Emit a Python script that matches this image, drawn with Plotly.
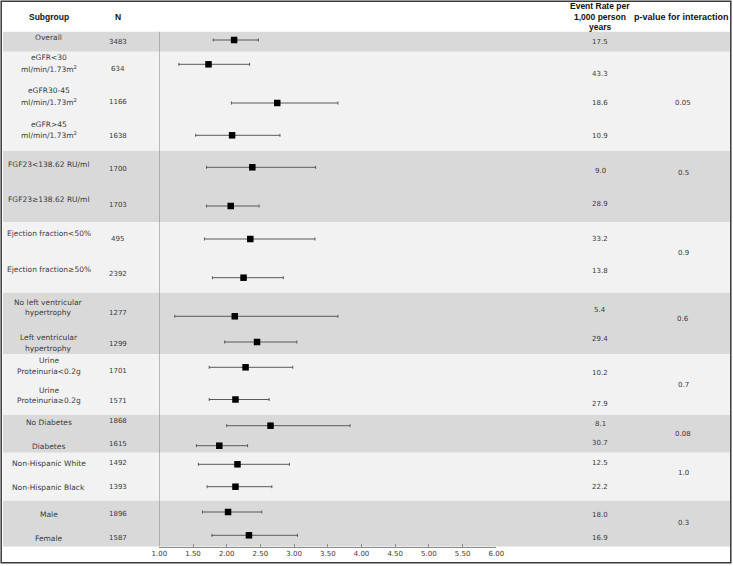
import plotly.graph_objects as go

# ---------------- data ----------------
subgroup_lines = [
    ["Overall"],
    ["eGFR<30", "ml/min/1.73m<sup>2</sup>"],
    ["eGFR30-45", "ml/min/1.73m<sup>2</sup>"],
    ["eGFR>45", "ml/min/1.73m<sup>2</sup>"],
    ["FGF23<138.62 RU/ml"],
    ["FGF23≥138.62 RU/ml"],
    ["Ejection fraction<50%"],
    ["Ejection fraction≥50%"],
    ["No left ventricular", "hypertrophy"],
    ["Left ventricular", "hypertrophy"],
    ["Urine", "Proteinuria<0.2g"],
    ["Urine", "Proteinuria≥0.2g"],
    ["No Diabetes"],
    ["Diabetes"],
    ["Non-Hispanic White"],
    ["Non-Hispanic Black"],
    ["Male"],
    ["Female"],
]
n_values = [3483, 634, 1166, 1638, 1700, 1703, 495, 2392, 1277, 1299,
            1701, 1571, 1868, 1615, 1492, 1393, 1896, 1587]
hr = [2.11, 1.73, 2.75, 2.08, 2.38, 2.06, 2.35, 2.25, 2.12, 2.45,
      2.28, 2.13, 2.65, 1.89, 2.16, 2.13, 2.02, 2.33]
ci_low = [1.80, 1.29, 2.07, 1.54, 1.70, 1.70, 1.67, 1.79, 1.23, 1.97,
          1.74, 1.74, 2.00, 1.55, 1.58, 1.71, 1.64, 1.78]
ci_high = [2.47, 2.34, 3.65, 2.79, 3.32, 2.48, 3.31, 2.84, 3.65, 3.04,
           2.98, 2.63, 3.83, 2.31, 2.93, 2.67, 2.52, 3.05]
event_rate = ["17.5", "43.3", "18.6", "10.9", "9.0", "28.9", "33.2", "13.8",
              "5.4", "29.4", "10.2", "27.9", "8.1", "30.7", "12.5", "22.2",
              "18.0", "16.9"]
p_values = ["0.05", "0.5", "0.9", "0.6", "0.7", "0.08", "1.0", "0.3"]
x_ticks = [1.0, 1.5, 2.0, 2.5, 3.0, 3.5, 4.0, 4.5, 5.0, 5.5, 6.0]
x_tick_labels = ["%.2f" % t for t in x_ticks]

# ---------------- layout (pixel rows from top) ----------------
W, H = 733, 566
AXIS_Y = 546.7
marker_y = [40, 64.3, 103, 135.3, 167.3, 206, 239, 277.7, 316.3, 342,
            367.3, 399.5, 425.7, 445.7, 464.3, 486.7, 512, 535.3]
label_y = [[37.7], [57.3, 68.7], [90.7, 102], [124, 135.3], [164.3], [199.3],
           [233.7], [269], [302.7, 312.7], [337.7, 348], [360.3, 371],
           [390.3, 400.7], [422.7], [446.3], [463.3], [487.3], [514.3], [538]]
n_y = [42.3, 69.3, 102, 136, 169.3, 204.7, 238.7, 274, 312.7, 343.7,
       371, 400.7, 421.3, 444.3, 463.3, 487.3, 514.3, 538]
rate_y = [42.3, 74, 103.3, 135.7, 171, 204.3, 238.7, 271, 310, 339.3,
          373, 404.3, 424.3, 443, 463.3, 487.3, 515, 538]
p_y = [103.3, 172.7, 253.3, 319, 385, 433.7, 473.3, 522.7]
DARK, LIGHT = "#d9d9d9", "#f2f2f2"
bands = [(31.7, 51.7, DARK), (51.7, 151, LIGHT), (151, 222.3, DARK),
         (222.3, 292.7, LIGHT), (292.7, 354.3, DARK), (354.3, 415, LIGHT),
         (415, 452.7, DARK), (452.7, 500.7, LIGHT), (500.7, AXIS_Y, DARK)]

X_SUB, X_N, X_RATE, X_P = 48.5, 117.5, 600, 683
X1_PX, X6_PX = 159.3, 496.3

body_font = dict(family="DejaVu Sans", size=7.5, color="#3a3a3a")
num_font = dict(family="DejaVu Sans", size=7, color="#3a3a3a")
head_font = dict(family="Liberation Sans", size=8.5, color="#111111")

fig = go.Figure()
fig.add_trace(go.Scatter(
    x=hr, y=marker_y, mode="markers",
    marker=dict(symbol="square", size=6.5, color="black"),
    error_x=dict(type="data", symmetric=False,
                 array=[h - e for h, e in zip(ci_high, hr)],
                 arrayminus=[e - l for e, l in zip(hr, ci_low)],
                 color="#595959", thickness=1, width=1.5),
    hoverinfo="skip", cliponaxis=False,
))

shapes = []
for y0, y1, c in bands:
    shapes.append(dict(type="rect", xref="paper", yref="y", x0=3 / W, x1=730 / W,
                       y0=y0, y1=y1, fillcolor=c, line=dict(width=0), layer="below"))
shapes.append(dict(type="line", xref="x", yref="y", x0=1, x1=1, y0=31.7, y1=AXIS_Y,
                   line=dict(color="#8c8c8c", width=1), layer="below"))
# outer frame around the whole picture
shapes.append(dict(type="rect", xref="paper", yref="paper",
                   x0=1.2 / W, x1=730.8 / W,
                   y0=(H - 562.8) / H, y1=(H - 1.2) / H,
                   line=dict(color="#3a3a3a", width=1.5),
                   fillcolor="rgba(0,0,0,0)", layer="above"))

ann = []
def txt(x_px, y, s, font, yref="y"):
    ann.append(dict(x=x_px / W, xref="paper", y=y, yref=yref, text=s,
                    showarrow=False, font=font, xanchor="center", yanchor="middle"))

# header
txt(X_SUB, 17.3, "<b>Subgroup</b>", head_font)
txt(X_N, 17.3, "<b>N</b>", head_font)
txt(600, 6, "<b>Event Rate per</b>", head_font)
txt(600, 16.7, "<b>1,000 person</b>", head_font)
txt(600, 27.3, "<b>years</b>", head_font)
txt(681, 16.7, "<b>p-value for interaction</b>", dict(head_font, size=9))

for lines, ys in zip(subgroup_lines, label_y):
    for s, yy in zip(lines, ys):
        txt(X_SUB, yy, s, body_font)
for n, yy in zip(n_values, n_y):
    txt(X_N, yy, str(n), num_font)
for r, yy in zip(event_rate, rate_y):
    txt(X_RATE, yy, r, num_font)
for p, yy in zip(p_values, p_y):
    txt(X_P, yy, p, num_font)

fig.update_layout(
    width=W, height=H,
    margin=dict(l=0, r=0, t=0, b=0, pad=0, autoexpand=False),
    paper_bgcolor="white", plot_bgcolor="rgba(0,0,0,0)",
    showlegend=False,
    shapes=shapes,
    annotations=ann,
    xaxis=dict(domain=[X1_PX / W, X6_PX / W], range=[1, 6],
               tickvals=x_ticks, ticktext=x_tick_labels,
               ticks="inside", ticklen=3, tickcolor="#8c8c8c",
               showline=True, linecolor="#8c8c8c", linewidth=1,
               showgrid=False, zeroline=False, automargin=False,
               tickfont=dict(family="DejaVu Sans", size=7, color="#3a3a3a")),
    yaxis=dict(domain=[(H - AXIS_Y) / H, 1], range=[AXIS_Y, 0],
               visible=False, showgrid=False, zeroline=False, automargin=False),
)

fig.write_html("out.html", config={"responsive": False, "displayModeBar": False},
               post_script="document.body.style.margin='0px';document.body.style.padding='0px';document.body.style.overflow='hidden';")
